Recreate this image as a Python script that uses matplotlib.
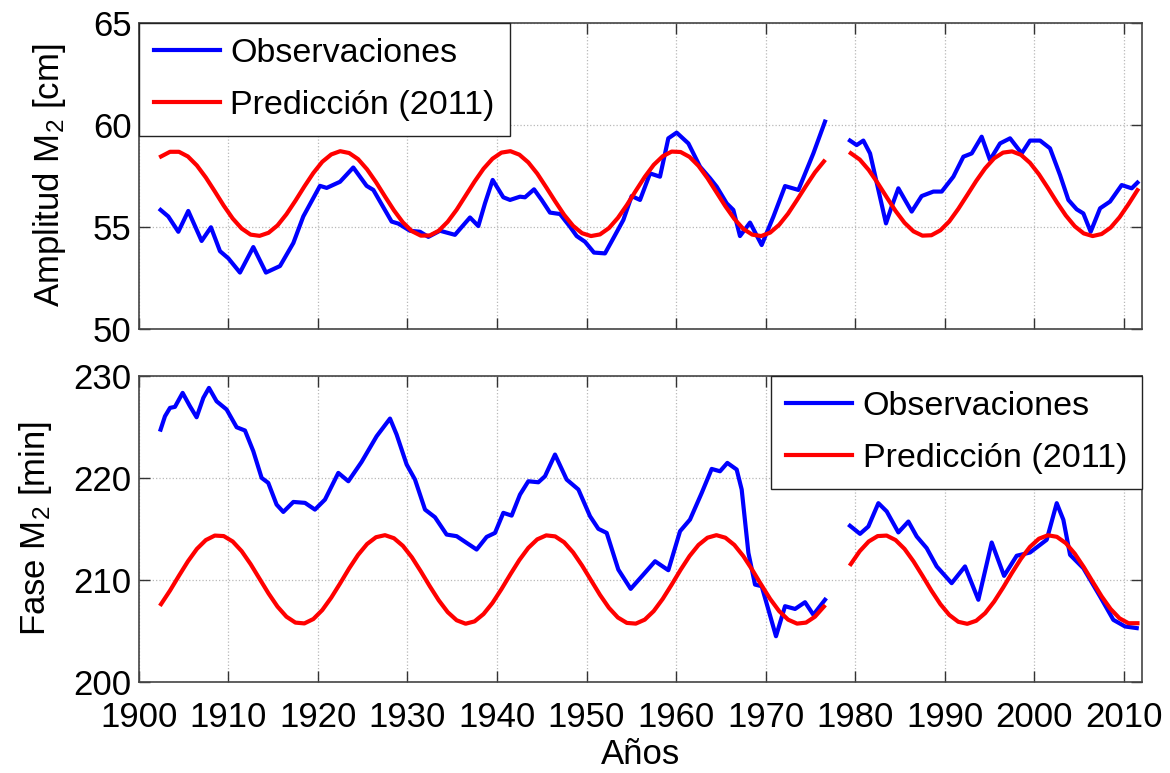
import numpy as np
import matplotlib
matplotlib.use('Agg')
import matplotlib.pyplot as plt

plt.rcParams['font.family'] = ['Liberation Sans', 'DejaVu Sans']
plt.rcParams['mathtext.default'] = 'regular'

# --- amplitud M2 [cm] ---
amp_obs_t1 = [1902.45, 1903.31, 1904.43, 1905.54, 1907.03, 1908.07, 1909.08, 1910.01, 1911.31, 1912.80,
              1914.21, 1915.78, 1917.27, 1918.38, 1920.24, 1920.99, 1922.48, 1923.96, 1925.45, 1926.20,
              1928.24, 1928.99, 1930.29, 1931.41, 1932.34, 1933.64, 1935.31, 1936.99, 1937.92, 1938.66,
              1939.52, 1940.71, 1941.46, 1942.57, 1943.13, 1944.14, 1944.99, 1945.92, 1947.04, 1948.15,
              1948.90, 1949.83, 1950.83, 1952.06, 1952.99, 1954.11, 1955.04, 1955.97, 1957.09, 1958.20,
              1959.13, 1960.06, 1961.37, 1962.67, 1963.79, 1964.53, 1965.65, 1966.39, 1967.13, 1968.25,
              1969.55, 1970.86, 1972.16, 1973.65, 1975.32, 1976.62]
amp_obs_v1 = [55.82, 55.50, 54.75, 55.77, 54.30, 54.97, 53.80, 53.45, 52.75, 54.00,
              52.75, 53.07, 54.20, 55.50, 57.00, 56.90, 57.20, 57.90, 57.00, 56.80,
              55.25, 55.15, 54.80, 54.75, 54.50, 54.80, 54.60, 55.45, 55.03, 56.14,
              57.29, 56.44, 56.31, 56.47, 56.44, 56.83, 56.31, 55.69, 55.62, 55.00,
              54.54, 54.26, 53.73, 53.69, 54.43, 55.33, 56.50, 56.31, 57.61, 57.45,
              59.33, 59.61, 59.08, 57.94, 57.37, 56.96, 56.14, 55.82, 54.54, 55.20,
              54.10, 55.49, 56.99, 56.80, 58.59, 60.15]
amp_obs_t2 = [1979.41, 1980.16, 1980.90, 1981.65, 1982.58, 1983.43, 1984.06, 1984.81, 1985.55, 1986.30,
              1987.41, 1988.72, 1989.65, 1990.95, 1992.07, 1993.00, 1994.11, 1995.04, 1996.16, 1997.28,
              1998.58, 1999.51, 2000.63, 2001.74, 2002.86, 2003.79, 2004.72, 2005.46, 2006.28, 2007.33,
              2008.44, 2009.74, 2010.86, 2011.50]
amp_obs_v2 = [59.22, 59.00, 59.22, 58.59, 56.80, 55.16, 55.98, 56.88, 56.31, 55.74,
              56.50, 56.72, 56.72, 57.45, 58.43, 58.59, 59.41, 58.27, 59.08, 59.33,
              58.59, 59.22, 59.22, 58.84, 57.53, 56.31, 55.85, 55.65, 54.75, 55.90,
              56.23, 57.04, 56.88, 57.16]

pred_t1 = np.arange(1902.5, 1977.0, 1.0)
pred_t2 = np.arange(1979.5, 2012.0, 1.0)
amp_pred_v1 = [58.44, 58.67, 58.67, 58.44, 58.00, 57.41, 56.73, 56.03, 55.40, 54.91,
               54.61, 54.55, 54.70, 55.06, 55.61, 56.27, 56.97, 57.63, 58.18, 58.54,
               58.70, 58.61, 58.31, 57.81, 57.18, 56.48, 55.80, 55.21, 54.78, 54.56,
               54.57, 54.80, 55.24, 55.83, 56.52, 57.21, 57.84, 58.33, 58.63, 58.70,
               58.53, 58.15, 57.60, 56.93, 56.24, 55.58, 55.04, 54.68, 54.54, 54.62,
               54.93, 55.43, 56.06, 56.76, 57.44, 58.03, 58.45, 58.68, 58.66, 58.42,
               57.98, 57.38, 56.69, 56.00, 55.38, 54.89, 54.61, 54.54, 54.71, 55.09,
               55.64, 56.31, 57.00, 57.66, 58.20]
amp_pred_v2 = [58.60, 58.29, 57.78, 57.14, 56.45, 55.77, 55.19, 54.77, 54.56, 54.58,
               54.82, 55.26, 55.87, 56.55, 57.24, 57.86, 58.35, 58.63, 58.69, 58.52,
               58.13, 57.57, 56.90, 56.20, 55.55, 55.02, 54.67, 54.54, 54.64, 54.95,
               55.46, 56.10, 56.79]

# --- fase M2 [min] ---
fase_obs_t1 = [1902.45, 1902.94, 1903.50, 1904.05, 1904.91, 1905.73, 1906.47, 1907.22, 1907.85, 1908.70,
               1909.82, 1910.94, 1911.87, 1912.80, 1913.73, 1914.47, 1915.40, 1916.15, 1917.27, 1918.57,
               1919.68, 1920.80, 1922.29, 1923.41, 1924.89, 1926.57, 1928.06, 1928.80, 1929.92, 1930.85,
               1931.97, 1933.08, 1934.38, 1935.50, 1936.62, 1937.73, 1938.85, 1939.78, 1940.71, 1941.64,
               1942.57, 1943.50, 1944.62, 1945.36, 1946.48, 1947.78, 1949.09, 1950.39, 1951.32, 1952.25,
               1953.55, 1954.93, 1956.34, 1957.65, 1959.13, 1960.44, 1961.55, 1962.86, 1963.97, 1964.90,
               1965.72, 1966.76, 1967.32, 1968.07, 1968.81, 1969.55, 1970.30, 1971.15, 1972.16, 1973.28,
               1974.39, 1975.32, 1976.62]
fase_obs_v1 = [224.74, 226.05, 226.87, 226.97, 228.34, 227.03, 225.95, 227.85, 228.83, 227.52,
               226.71, 224.97, 224.65, 222.62, 220.00, 219.51, 217.38, 216.66, 217.64, 217.55,
               216.89, 217.87, 220.49, 219.67, 221.57, 224.09, 225.82, 224.25, 221.31, 219.84,
               216.89, 216.14, 214.44, 214.28, 213.62, 212.97, 214.21, 214.60, 216.57, 216.30,
               218.36, 219.67, 219.57, 220.16, 222.29, 219.84, 218.86, 216.24, 215.00, 214.60,
               211.00, 209.11, 210.51, 211.82, 210.94, 214.77, 215.91, 218.53, 220.88, 220.65,
               221.47, 220.82, 218.86, 212.64, 209.53, 209.37, 207.08, 204.46, 207.41, 207.14,
               207.80, 206.57, 208.04]
fase_obs_t2 = [1979.41, 1980.53, 1981.46, 1982.58, 1983.51, 1984.81, 1985.93, 1986.86, 1987.97, 1989.09,
               1990.76, 1992.25, 1993.74, 1995.23, 1996.61, 1998.02, 1999.51, 2001.37, 2002.49, 2003.23,
               2003.98, 2005.46, 2007.33, 2008.81, 2010.12, 2011.42]
fase_obs_v2 = [215.30, 214.51, 215.23, 217.52, 216.71, 214.65, 215.72, 214.25, 213.11, 211.31,
               209.67, 211.31, 208.04, 213.66, 210.39, 212.36, 212.68, 213.93, 217.52, 215.89,
               212.45, 211.14, 208.36, 206.07, 205.42, 205.26]

fase_pred_v1 = [207.61, 208.94, 210.40, 211.81, 213.03, 213.90, 214.34, 214.29, 213.76, 212.81,
                211.54, 210.10, 208.66, 207.37, 206.38, 205.80, 205.72, 206.15, 207.03, 208.25,
                209.66, 211.12, 212.45, 213.51, 214.18, 214.38, 214.08, 213.33, 212.21, 210.83,
                209.37, 207.99, 206.83, 206.03, 205.69, 205.92, 206.64, 207.73, 209.08, 210.54,
                211.94, 213.13, 213.97, 214.36, 214.26, 213.68, 212.69, 211.40, 209.96, 208.52,
                207.25, 206.30, 205.77, 205.70, 206.09, 206.93, 208.12, 209.52, 210.98, 212.33,
                213.42, 214.13, 214.38, 214.13, 213.42, 212.33, 210.98, 209.52, 208.12, 206.93,
                206.09, 205.70, 205.80, 206.38, 207.37]
fase_pred_v2 = [211.54, 212.81, 213.76, 214.29, 214.34, 213.90, 213.03, 211.81, 210.40, 208.94,
                207.61, 206.55, 205.88, 205.68, 205.98, 206.73, 207.86, 209.23, 210.69, 212.07,
                213.23, 214.03, 214.37, 214.22, 213.60, 212.57, 211.26, 209.81, 208.38, 207.14,
                206.22, 205.74, 205.74]

x_ticks = np.arange(1900, 2011, 10)

fig = plt.figure(figsize=(11.7, 7.73), dpi=100)
ax1 = fig.add_axes([0.1185, 0.5748, 0.8575, 0.3959])
ax2 = fig.add_axes([0.1185, 0.1181, 0.8575, 0.3955])

lw = 3
fs = 25


def estilo(ax, yticks):
    ax.set_xlim(1900, 2012)
    ax.set_xticks(x_ticks)
    ax.set_ylim(yticks[0], yticks[-1])
    ax.set_yticks(yticks)
    ax.grid(True, linestyle=':', color='#b8b8b8', linewidth=0.9)
    ax.set_axisbelow(True)
    ax.tick_params(direction='in', length=8, width=1, top=True, right=True,
                   labelsize=fs, colors='#333333', labelcolor='black')
    ax.tick_params(axis='x', pad=14)
    ax.tick_params(axis='y', pad=5)
    for s in ax.spines.values():
        s.set_color('#444444')
        s.set_linewidth(1.2)


# panel superior
ax1.plot(amp_obs_t1, amp_obs_v1, color='b', lw=lw, label='Observaciones')
ax1.plot(amp_obs_t2, amp_obs_v2, color='b', lw=lw)
ax1.plot(pred_t1, amp_pred_v1, color='r', lw=lw, label=u'Predicción (2011)')
ax1.plot(pred_t2, amp_pred_v2, color='r', lw=lw)
estilo(ax1, [50, 55, 60, 65])
ax1.set_xticklabels([])
ax1.set_ylabel('Amplitud M$_2$ [cm]', fontsize=fs, labelpad=18)

# panel inferior
ax2.plot(fase_obs_t1, fase_obs_v1, color='b', lw=lw, label='Observaciones')
ax2.plot(fase_obs_t2, fase_obs_v2, color='b', lw=lw)
ax2.plot(pred_t1, fase_pred_v1, color='r', lw=lw, label=u'Predicción (2011)')
ax2.plot(pred_t2, fase_pred_v2, color='r', lw=lw)
estilo(ax2, [200, 210, 220, 230])
ax2.set_ylabel('Fase M$_2$ [min]', fontsize=fs, labelpad=14)
ax2.set_xlabel(u'Años', fontsize=fs, labelpad=3)

for ax, loc in [(ax1, 'upper left'), (ax2, 'upper right')]:
    leg = ax.legend(loc=loc, fontsize=24.5, borderaxespad=0, handlelength=1.95,
                    handletextpad=0.3, labelspacing=0.62, borderpad=0.44,
                    fancybox=False, framealpha=1, edgecolor='#222222')
    leg.get_frame().set_linewidth(1.0)

fig.savefig('out.png', dpi=100)
